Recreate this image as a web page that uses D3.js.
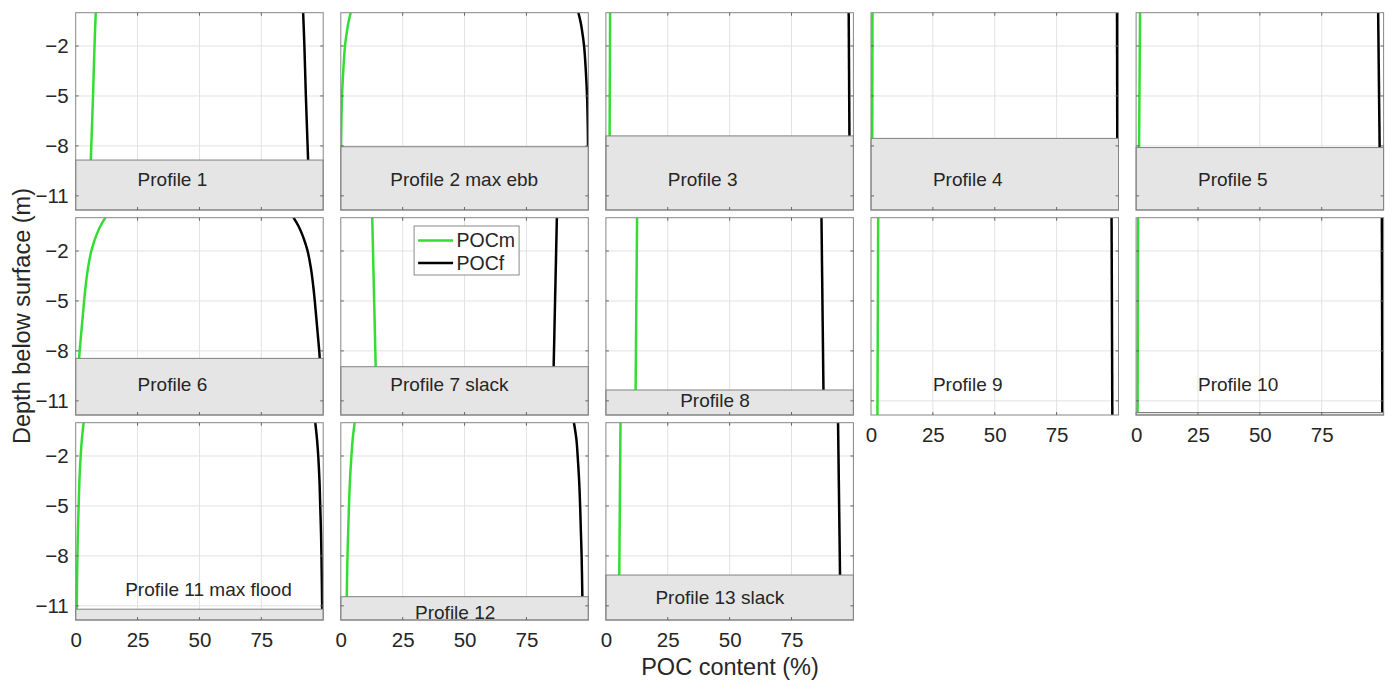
<!DOCTYPE html>
<html>
<head>
<meta charset="utf-8">
<script src="https://cdn.jsdelivr.net/npm/d3@7"></script>
<style>
  body { margin: 0; background: #fff; }
  svg { display: block; font-family: 'Liberation Sans', Arial, sans-serif; }
</style>
</head>
<body>
<div id="chart"></div>
<script>
// profile names, seabed depth (m) and sampled POC fractions (%)
let profileNames = [
  'Profile 1', 'Profile 2 max ebb', 'Profile 3', 'Profile 4', 'Profile 5',
  'Profile 6', 'Profile 7 slack', 'Profile 8', 'Profile 9', 'Profile 10',
  'Profile 11 max flood', 'Profile 12', 'Profile 13 slack'
]
let bedDepths = [-8.85, -8.05, -7.4, -7.55, -8.1, -8.45, -8.95, -10.35, -11.85, -11.7, -11.2, -10.45, -9.15]

let sampleDepths = [
  [0, -2, -5, -8, -8.85],
  [0, -0.5, -1, -2, -3.5, -5, -6.5, -8.05],
  [0, -7.4],
  [0, -7.55],
  [0, -8.1],
  [0, -0.5, -1, -1.5, -2, -3, -4, -5, -6.5, -8, -8.45],
  [0, -8.95],
  [0, -10.35],
  [0, -11.85],
  [0, -11.7],
  [0, -1, -2, -3.5, -5, -6.5, -8, -11.2],
  [0, -1, -2, -3.5, -5, -6.5, -8, -10.45],
  [0, -9.15]
]
let pocM = [
  [8.1, 7.6, 7.0, 6.3, 6.1],
  [4.0, 3.2, 2.6, 1.7, 1.0, 0.5, 0.25, 0.1],
  [1.7, 1.5],
  [0.6, 0.5],
  [1.6, 1.2],
  [12.0, 10.0, 8.5, 7.3, 6.3, 5.0, 4.1, 3.4, 2.5, 1.6, 1.4],
  [12.7, 14.1],
  [12.6, 12.0],
  [2.9, 2.6],
  [0.8, 0.6],
  [3.2, 2.5, 2.0, 1.5, 1.2, 0.9, 0.7, 0.4],
  [5.6, 4.8, 4.3, 3.7, 3.3, 3.0, 2.7, 2.4],
  [5.9, 5.4]
]
let pocF = [
  [91.9, 92.4, 93.0, 93.7, 93.9],
  [96.0, 96.8, 97.4, 98.3, 99.0, 99.5, 99.75, 99.9],
  [98.1, 98.4],
  [99.4, 99.5],
  [97.8, 98.4],
  [88.0, 90.0, 91.5, 92.7, 93.7, 95.0, 95.9, 96.6, 97.5, 98.4, 98.6],
  [87.3, 86.0],
  [87.1, 87.9],
  [97.2, 97.5],
  [99.3, 99.5],
  [96.8, 97.5, 98.0, 98.5, 98.8, 99.1, 99.3, 99.6],
  [94.2, 95.2, 95.7, 96.3, 96.7, 97.0, 97.3, 97.6],
  [93.8, 94.6]
]
// label anchor in data units: [POC %, depth m]
let labelAnchors = [
  [25, -10], [20, -10], [25, -10], [25, -10], [25, -10],
  [25, -10], [20, -10], [30, -11], [25, -10], [25, -10],
  [20, -10], [30, -11.4], [20, -10.5]
]

let xTicks = [0, 25, 50, 75]
let yTicks = [-2, -5, -8, -11]
let seriesNames = ['POCm', 'POCf']
let seriesColors = ['#33dd33', '#000000']

let chartWidth = 1395
let chartHeight = 681
let panelLeft = 75.7
let panelTop = 12.7
let colStep = 265.1
let rowStep = 205
let pw = 247.5
let ph = 197.3

let svg = d3
  .select('#chart')
  .append('svg')
  .attr('width', chartWidth)
  .attr('height', chartHeight)

let xPositionScale = d3.scaleLinear().domain([0, 100]).range([0, pw])
let yPositionScale = d3.scaleLinear().domain([-11.85, 0]).range([ph, 0])

svg
  .append('defs')
  .append('clipPath')
  .attr('id', 'panel-clip')
  .append('rect')
  .attr('width', pw)
  .attr('height', ph)

profileNames.forEach((name, i) => {
  let col = i % 5
  let row = Math.floor(i / 5)
  let g = svg
    .append('g')
    .attr('transform', `translate(${panelLeft + col * colStep}, ${panelTop + row * rowStep})`)

  g.append('rect').attr('width', pw).attr('height', ph).attr('fill', '#fff')

  // grid
  g.selectAll('.grid-x')
    .data(xTicks.slice(1))
    .enter()
    .append('line')
    .attr('x1', d => xPositionScale(d))
    .attr('x2', d => xPositionScale(d))
    .attr('y1', 0)
    .attr('y2', ph)
    .attr('stroke', '#e2e2e2')
  g.selectAll('.grid-y')
    .data(yTicks)
    .enter()
    .append('line')
    .attr('x1', 0)
    .attr('x2', pw)
    .attr('y1', d => yPositionScale(d))
    .attr('y2', d => yPositionScale(d))
    .attr('stroke', '#e2e2e2')

  // profiles
  let line = d3
    .line()
    .x(d => xPositionScale(d[1]))
    .y(d => yPositionScale(d[0]))
    .curve(d3.curveCatmullRom)

  let series = [pocM[i], pocF[i]]
  g.append('g')
    .attr('clip-path', 'url(#panel-clip)')
    .selectAll('path')
    .data(series)
    .enter()
    .append('path')
    .attr('d', vals => line(vals.map((v, k) => [sampleDepths[i][k], v])))
    .attr('fill', 'none')
    .attr('stroke', (d, k) => seriesColors[k])
    .attr('stroke-width', 2.5)

  // seabed
  g.append('rect')
    .attr('x', 0)
    .attr('y', yPositionScale(bedDepths[i]))
    .attr('width', pw)
    .attr('height', ph - yPositionScale(bedDepths[i]))
    .attr('fill', '#e5e5e5')
    .attr('stroke', '#808080')
    .attr('stroke-width', 1)

  // box and inward ticks
  g.append('rect')
    .attr('width', pw)
    .attr('height', ph)
    .attr('fill', 'none')
    .attr('stroke', '#858585')
    .attr('stroke-width', 1)
  yTicks.forEach(t => {
    let y = yPositionScale(t)
    g.append('line').attr('x1', 0).attr('x2', 3).attr('y1', y).attr('y2', y).attr('stroke', '#666')
    g.append('line').attr('x1', pw - 3).attr('x2', pw).attr('y1', y).attr('y2', y).attr('stroke', '#666')
  })
  xTicks.slice(1).forEach(t => {
    let x = xPositionScale(t)
    g.append('line').attr('x1', x).attr('x2', x).attr('y1', 0).attr('y2', 3).attr('stroke', '#666')
    g.append('line').attr('x1', x).attr('x2', x).attr('y1', ph - 3).attr('y2', ph).attr('stroke', '#666')
  })

  g.append('text')
    .attr('x', xPositionScale(labelAnchors[i][0]))
    .attr('y', yPositionScale(labelAnchors[i][1]))
    .attr('dy', '0.35em')
    .attr('font-size', 19)
    .attr('fill', '#262626')
    .text(name)

  // axes labels
  if (col === 0) {
    let yAxis = d3.axisLeft(yPositionScale).tickValues(yTicks).tickSize(0).tickPadding(7)
    g.append('g').attr('class', 'axis y-axis').call(yAxis)
  }
  if (row === 2 || (row === 1 && col >= 3)) {
    let xAxis = d3.axisBottom(xPositionScale).tickValues(xTicks).tickSize(0).tickPadding(12)
    g.append('g').attr('class', 'axis x-axis').attr('transform', `translate(0, ${ph})`).call(xAxis)
  }

  // legend sits in profile 7
  if (i === 6) {
    let lg = g.append('g').attr('transform', 'translate(73.3, 8.3)')
    lg.append('rect')
      .attr('width', 105)
      .attr('height', 49)
      .attr('fill', '#fff')
      .attr('stroke', '#8a8a8a')
    seriesNames.forEach((s, k) => {
      lg.append('line')
        .attr('x1', 4)
        .attr('x2', 39)
        .attr('y1', 14.5 + k * 22.5)
        .attr('y2', 14.5 + k * 22.5)
        .attr('stroke', seriesColors[k])
        .attr('stroke-width', 2.5)
      lg.append('text')
        .attr('x', 42.5)
        .attr('y', 14.5 + k * 22.5)
        .attr('dy', '0.35em')
        .attr('font-size', 19.5)
        .attr('fill', '#262626')
        .text(s)
    })
  }
})

svg.selectAll('.axis .domain').remove()
svg
  .selectAll('.axis text')
  .attr('font-size', 20.5)
  .attr('fill', '#262626')
  .attr('font-family', "'Liberation Sans', Arial, sans-serif")

svg
  .append('text')
  .attr('x', 730)
  .attr('y', 667)
  .attr('dy', '0.35em')
  .attr('text-anchor', 'middle')
  .attr('font-size', 23.5)
  .attr('fill', '#262626')
  .text('POC content (%)')

svg
  .append('text')
  .attr('transform', 'translate(22, 316) rotate(-90)')
  .attr('dy', '0.35em')
  .attr('text-anchor', 'middle')
  .attr('font-size', 23.5)
  .attr('fill', '#262626')
  .text('Depth below surface (m)')
</script>
</body>
</html>
